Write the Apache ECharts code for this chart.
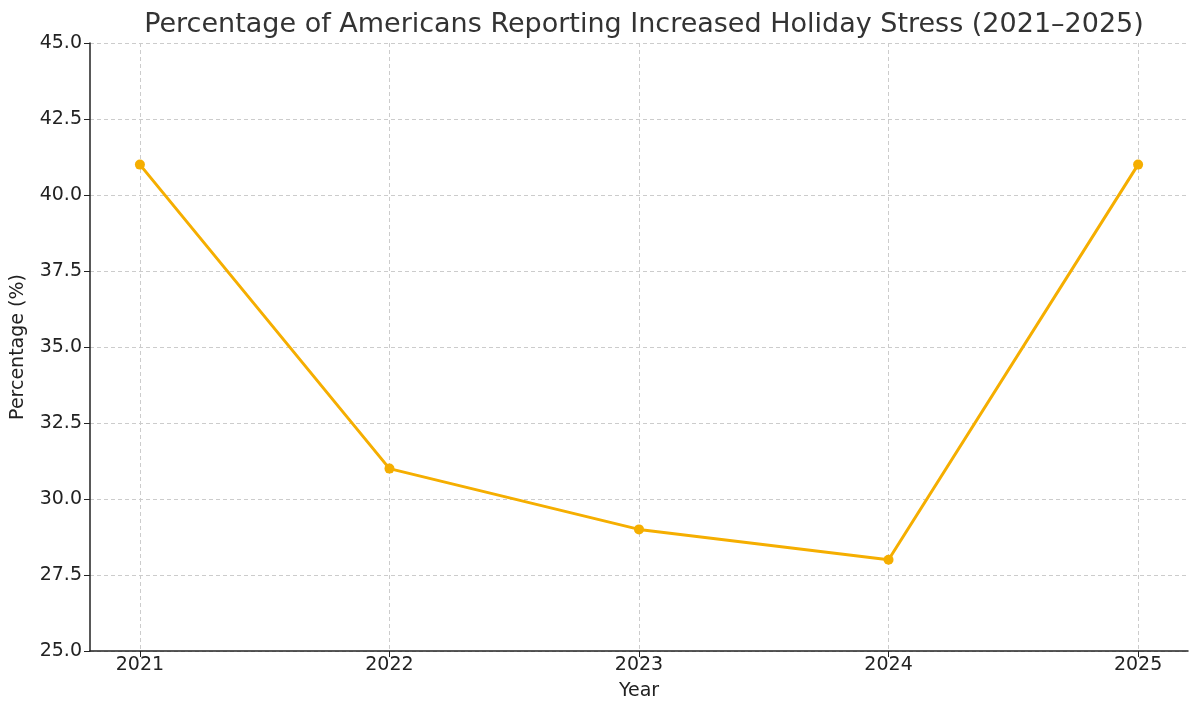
<!DOCTYPE html>
<html><head><meta charset="utf-8">
<script src="https://cdn.jsdelivr.net/npm/echarts@6/dist/echarts.min.js"></script>
<style>html,body{margin:0;padding:0;background:#fff}#c{width:1200px;height:716px}</style>
</head><body><div id="c"></div>
<script>
const years = [2021, 2022, 2023, 2024, 2025];
const percentages = [41, 31, 29, 28, 41];
const yTicks = [25, 27.5, 30, 32.5, 35, 37.5, 40, 42.5, 45];

const chart = echarts.init(document.getElementById('c'), null, {renderer: 'canvas'});
const font = 'DejaVu Sans';
chart.setOption({
  animation: false,
  backgroundColor: '#fff',
  title: {
    text: 'Percentage of Americans Reporting Increased Holiday Stress (2021\u20132025)',
    left: 639, top: 6, textAlign: 'center',
    textStyle: {fontFamily: font, fontSize: 27, fontWeight: 'normal', color: '#333'}
  },
  grid: {left: 90, right: 12, top: 43, bottom: 65},
  xAxis: {
    type: 'value', min: 2020.8, max: 2025.2,
    name: 'Year', nameLocation: 'middle', nameGap: 31,
    nameTextStyle: {fontFamily: font, fontSize: 19, color: '#222'},
    axisLine: {show: true, onZero: false, lineStyle: {color: '#222', width: 1.5}},
    axisTick: {show: true, customValues: years, length: 6, lineStyle: {color: '#222'}},
    axisLabel: {customValues: years, fontFamily: font, fontSize: 19, color: '#222', margin: 5, formatter: v => String(v)},
    splitLine: {show: true, lineStyle: {color: '#ccc', type: [4, 3], width: 1}}
  },
  yAxis: {
    type: 'value', min: 25, max: 45, interval: 2.5,
    name: 'Percentage (%)', nameLocation: 'middle', nameGap: 62,
    nameTextStyle: {fontFamily: font, fontSize: 19, color: '#222'},
    axisLine: {show: true, lineStyle: {color: '#222', width: 1.5}},
    axisTick: {show: true, length: 6, lineStyle: {color: '#222'}},
    axisLabel: {fontFamily: font, fontSize: 19, color: '#222', margin: 8, formatter: v => v.toFixed(1)},
    splitLine: {show: true, lineStyle: {color: '#ccc', type: [4, 3], width: 1}}
  },
  series: [{
    type: 'line',
    data: years.map((y, i) => [y, percentages[i]]),
    symbol: 'circle', symbolSize: 10,
    itemStyle: {color: '#F5AE00'},
    lineStyle: {color: '#F5AE00', width: 3}
  }]
});
</script></body></html>
